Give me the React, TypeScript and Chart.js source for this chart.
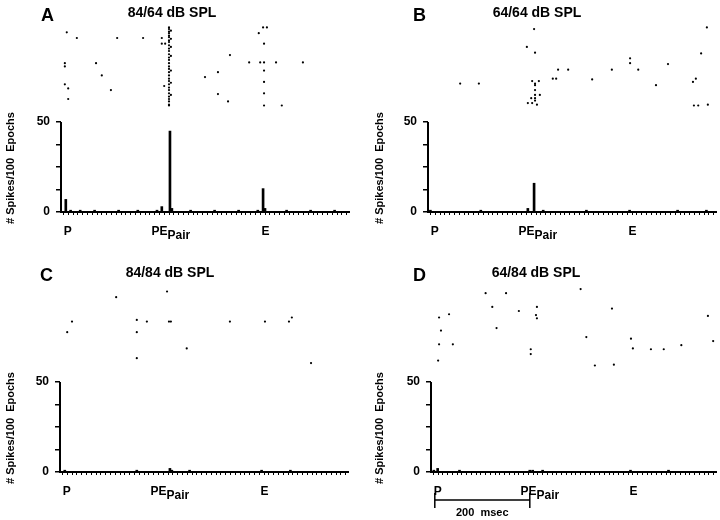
import React, { useEffect, useRef } from 'react';
import { Chart, registerables } from 'chart.js';

Chart.register(...registerables);

const FONT = '"Liberation Sans", Arial, Helvetica, sans-serif';

// ---- text / labels ----
const panelLetters = ['A', 'B', 'C', 'D'];
const panelTitles = ['84/64 dB SPL', '64/64 dB SPL', '84/84 dB SPL', '64/84 dB SPL'];
const eventLabels = ['P', 'PE', 'E'];
const eventSubscripts = ['', 'Pair', ''];
const eventMs = [8, 220, 420];
const yAxisTitle = '# Spikes/100  Epochs';
const yTickValues = [0, 12.5, 25, 37.5, 50];
const yTickLabels = ['0', '', '', '', '50'];
const xTickMs = Array.from({ length: 61 }, (_, i) => i * 10);
const scaleBarMs = [8, 208];
const scaleBarLabel = '200  msec';

// ---- histogram data (bin time in ms, spikes / 100 epochs) ----
const histA_ms = [10, 20, 40, 70, 120, 160, 200, 210, 227, 231, 270, 320, 370, 410, 421, 425, 470, 520, 570];
const histA_count = [7, 1, 1, 1, 1, 1, 1, 3, 45, 2, 1, 1, 1, 1, 13, 2, 1, 1, 1];
const histB_ms = [5, 110, 208, 221, 240, 330, 420, 520, 580];
const histB_count = [1, 1, 2, 16, 1, 1, 1, 1, 1];
const histC_ms = [10, 160, 229, 233, 270, 420, 480];
const histC_count = [1, 1, 2, 1, 1, 1, 1];
const histD_ms = [6, 14, 60, 208, 214, 235, 420, 500];
const histD_count = [1, 2, 1, 1, 1, 1, 1, 1];

// ---- raster data (spike time in ms, epoch/trial) ----
const rasterA_ms = [
  12, 33, 117, 171, 8, 8, 73, 85, 8, 15, 15, 104, 210, 210, 217, 215,
  225, 225, 225, 225, 225, 225, 225, 225, 225, 225, 225, 225, 225, 225, 225,
  225, 225, 225, 225, 225, 225, 225, 225, 225, 225, 225, 225, 225, 225, 225,
  229, 229, 229, 229, 229, 229, 229,
  300, 327, 327, 348, 352, 392, 412, 421, 429,
  423, 423, 423, 423, 423, 423,
  415, 448, 460, 504,
];
const rasterA_trial = [
  91, 84, 84, 84, 53, 49, 53, 38, 27, 22, 9, 20, 84, 77, 77, 25,
  97, 95, 92, 90, 87, 85, 81, 79, 75, 71, 68, 64, 60, 57, 53,
  49, 46, 42, 38, 34, 31, 27, 23, 20, 16, 12, 9, 6, 2, 1,
  93, 83, 73, 62, 44, 29, 14,
  36, 42, 15, 6, 63, 54, 90, 97, 97,
  77, 54, 44, 30, 16, 1,
  54, 54, 1, 54,
];
const rasterB_ms = [
  67, 106, 221, 206, 223, 217, 223, 231, 223, 223, 223, 223, 223, 215, 233,
  208, 217, 227, 260, 267, 271, 292, 342, 383, 421, 421, 438, 475, 500,
  552, 558, 554, 563, 583, 569, 581,
];
const rasterB_trial = [
  28, 28, 95, 73, 66, 31, 28, 31, 26, 20, 14, 10, 7, 10, 14,
  4, 4, 2, 34, 34, 45, 45, 33, 45, 59, 53, 45, 26, 52,
  30, 34, 1, 1, 2, 65, 97,
];
const rasterC_ms = [25, 15, 117, 160, 160, 160, 181, 223, 227, 231, 264, 354, 427, 477, 483, 523];
const rasterC_trial = [55, 42, 85, 57, 42, 10, 55, 92, 55, 55, 22, 55, 55, 55, 60, 4];
const rasterD_ms = [
  17, 21, 17, 15, 38, 46, 115, 129, 158, 138, 185, 210, 210, 223, 221, 223,
  315, 327, 345, 381, 385, 421, 425, 463, 490, 527, 583, 594,
];
const rasterD_trial = [
  60, 44, 27, 7, 64, 27, 90, 73, 90, 47, 68, 21, 15, 73, 63, 59,
  95, 36, 1, 71, 2, 34, 22, 21, 21, 26, 62, 31,
];

const panelData = [
  { histMs: histA_ms, histN: histA_count, rasMs: rasterA_ms, rasTrial: rasterA_trial },
  { histMs: histB_ms, histN: histB_count, rasMs: rasterB_ms, rasTrial: rasterB_trial },
  { histMs: histC_ms, histN: histC_count, rasMs: rasterC_ms, rasTrial: rasterC_trial },
  { histMs: histD_ms, histN: histD_count, rasMs: rasterD_ms, rasTrial: rasterD_trial },
];

// ---- layout (panel-local pixels) ----
const PANEL_W = 360;
const PANEL_H = 260;
const AXIS_W = 288;
const layouts = [
  { col: 0, row: 0, axisLeft: 61, letterX: 41, titleX: 172, yTitleX: 11 },
  { col: 1, row: 0, axisLeft: 68, letterX: 53, titleX: 177, yTitleX: 20 },
  { col: 0, row: 1, axisLeft: 60, letterX: 40, titleX: 170, yTitleX: 11 },
  { col: 1, row: 1, axisLeft: 71, letterX: 53, titleX: 176, yTitleX: 20 },
];

function makeOverlay(idx: number) {
  const L = layouts[idx];
  return {
    id: 'overlay' + idx,
    beforeDatasetsDraw(chart: any) {
      const { ctx } = chart;
      const x = chart.scales.x;
      const y = chart.scales.y;
      const px = x.getPixelForValue(0);
      ctx.save();
      ctx.strokeStyle = '#000';
      ctx.lineWidth = 2;
      ctx.beginPath();
      ctx.moveTo(px, y.getPixelForValue(yTickValues[0]) + 1);
      ctx.lineTo(px, y.getPixelForValue(yTickValues[yTickValues.length - 1]));
      ctx.stroke();
      ctx.restore();
    },
    afterDraw(chart: any) {
      const { ctx } = chart;
      const x = chart.scales.x;
      ctx.save();
      ctx.fillStyle = '#000';
      ctx.strokeStyle = '#000';
      ctx.textBaseline = 'alphabetic';

      ctx.font = `bold 18px ${FONT}`;
      ctx.textAlign = 'left';
      ctx.fillText(panelLetters[idx], L.letterX, 21);

      ctx.font = `bold 14px ${FONT}`;
      ctx.textAlign = 'center';
      ctx.fillText(panelTitles[idx], L.titleX, 17);

      ctx.save();
      ctx.translate(L.yTitleX, 168);
      ctx.rotate(-Math.PI / 2);
      ctx.font = `bold 11px ${FONT}`;
      ctx.textAlign = 'center';
      ctx.textBaseline = 'middle';
      ctx.fillText(yAxisTitle, 0, 0);
      ctx.restore();

      eventLabels.forEach((lab, i) => {
        const px = x.getPixelForValue(eventMs[i]);
        if (eventSubscripts[i]) {
          ctx.font = `bold 12px ${FONT}`;
          ctx.textAlign = 'right';
          ctx.fillText(lab, px + 1, 235);
          ctx.font = `bold 12px ${FONT}`;
          ctx.textAlign = 'left';
          ctx.fillText(eventSubscripts[i], px + 1, 239);
        } else {
          ctx.font = `bold 12px ${FONT}`;
          ctx.textAlign = 'left';
          ctx.fillText(lab, px - 1, 235);
        }
      });

      if (idx === 3) {
        const x0 = x.getPixelForValue(scaleBarMs[0]);
        const x1 = x.getPixelForValue(scaleBarMs[1]);
        ctx.lineWidth = 1.5;
        ctx.beginPath();
        ctx.moveTo(x0, 240);
        ctx.lineTo(x1, 240);
        ctx.moveTo(x0, 233);
        ctx.lineTo(x0, 248);
        ctx.moveTo(x1, 233);
        ctx.lineTo(x1, 248);
        ctx.stroke();
        ctx.font = `bold 11px ${FONT}`;
        ctx.textAlign = 'center';
        ctx.fillText(scaleBarLabel, (x0 + x1) / 2, 256);
      }
      ctx.restore();
    },
  };
}

function Panel({ idx }: { idx: number }) {
  const ref = useRef<HTMLCanvasElement>(null);
  const L = layouts[idx];
  useEffect(() => {
    const D = panelData[idx];
    const chart = new Chart(ref.current as HTMLCanvasElement, {
      type: 'scatter',
      data: {
        datasets: [
          {
            type: 'bar',
            data: D.histMs.map((t, i) => ({ x: t, y: D.histN[i] })),
            backgroundColor: '#000',
            borderWidth: 0,
            barThickness: 2,
            xAxisID: 'x',
            yAxisID: 'y',
          } as any,
          {
            type: 'scatter',
            data: D.rasMs.map((t, i) => ({ x: t, y: D.rasTrial[i] })),
            backgroundColor: '#000',
            borderWidth: 0,
            pointRadius: 1.1,
            xAxisID: 'x',
            yAxisID: 'yR',
          },
        ],
      },
      options: {
        responsive: false,
        animation: false,
        events: [],
        layout: { padding: { top: 25, right: PANEL_W - (L.axisLeft + AXIS_W), bottom: 0, left: 0 } },
        plugins: {
          legend: { display: false },
          tooltip: { enabled: false },
          title: { display: false },
        },
        scales: {
          x: {
            type: 'linear',
            min: 0,
            max: 600,
            offset: false,
            afterBuildTicks: (s: any) => {
              s.ticks = xTickMs.map((v) => ({ value: v }));
            },
            afterFit: (s: any) => {
              s.height = PANEL_H - 212;
            },
            ticks: { display: false },
            grid: { drawOnChartArea: false, drawTicks: true, tickLength: 3, color: '#000', lineWidth: 1 },
            border: { display: true, color: '#000', width: 2 },
          },
          y: {
            type: 'linear',
            position: 'left',
            min: 0,
            max: 104,
            afterBuildTicks: (s: any) => {
              s.ticks = yTickValues.map((v) => ({ value: v }));
            },
            afterFit: (s: any) => {
              s.width = L.axisLeft;
            },
            ticks: {
              autoSkip: false,
              padding: 6,
              color: '#000',
              font: { family: FONT, size: 12, weight: 'bold' },
              callback: (_v: any, i: number) => yTickLabels[i],
            },
            grid: { drawOnChartArea: false, drawTicks: true, tickLength: 5, color: '#000', lineWidth: 1.5 },
            border: { display: false },
          },
          yR: {
            type: 'linear',
            min: -130,
            max: 100,
            display: false,
          },
        },
      } as any,
      plugins: [makeOverlay(idx)],
    });
    return () => chart.destroy();
  }, [idx]);
  return (
    <div style={{ position: 'absolute', left: L.col * PANEL_W, top: L.row * PANEL_H, width: PANEL_W, height: PANEL_H }}>
      <canvas ref={ref} width={PANEL_W} height={PANEL_H} style={{ display: 'block' }} />
    </div>
  );
}

export default function App() {
  useEffect(() => {
    document.body.style.margin = '0';
  }, []);
  return (
    <div style={{ position: 'relative', width: 720, height: 520, background: '#fff' }}>
      {[0, 1, 2, 3].map((i) => (
        <Panel key={i} idx={i} />
      ))}
    </div>
  );
}
